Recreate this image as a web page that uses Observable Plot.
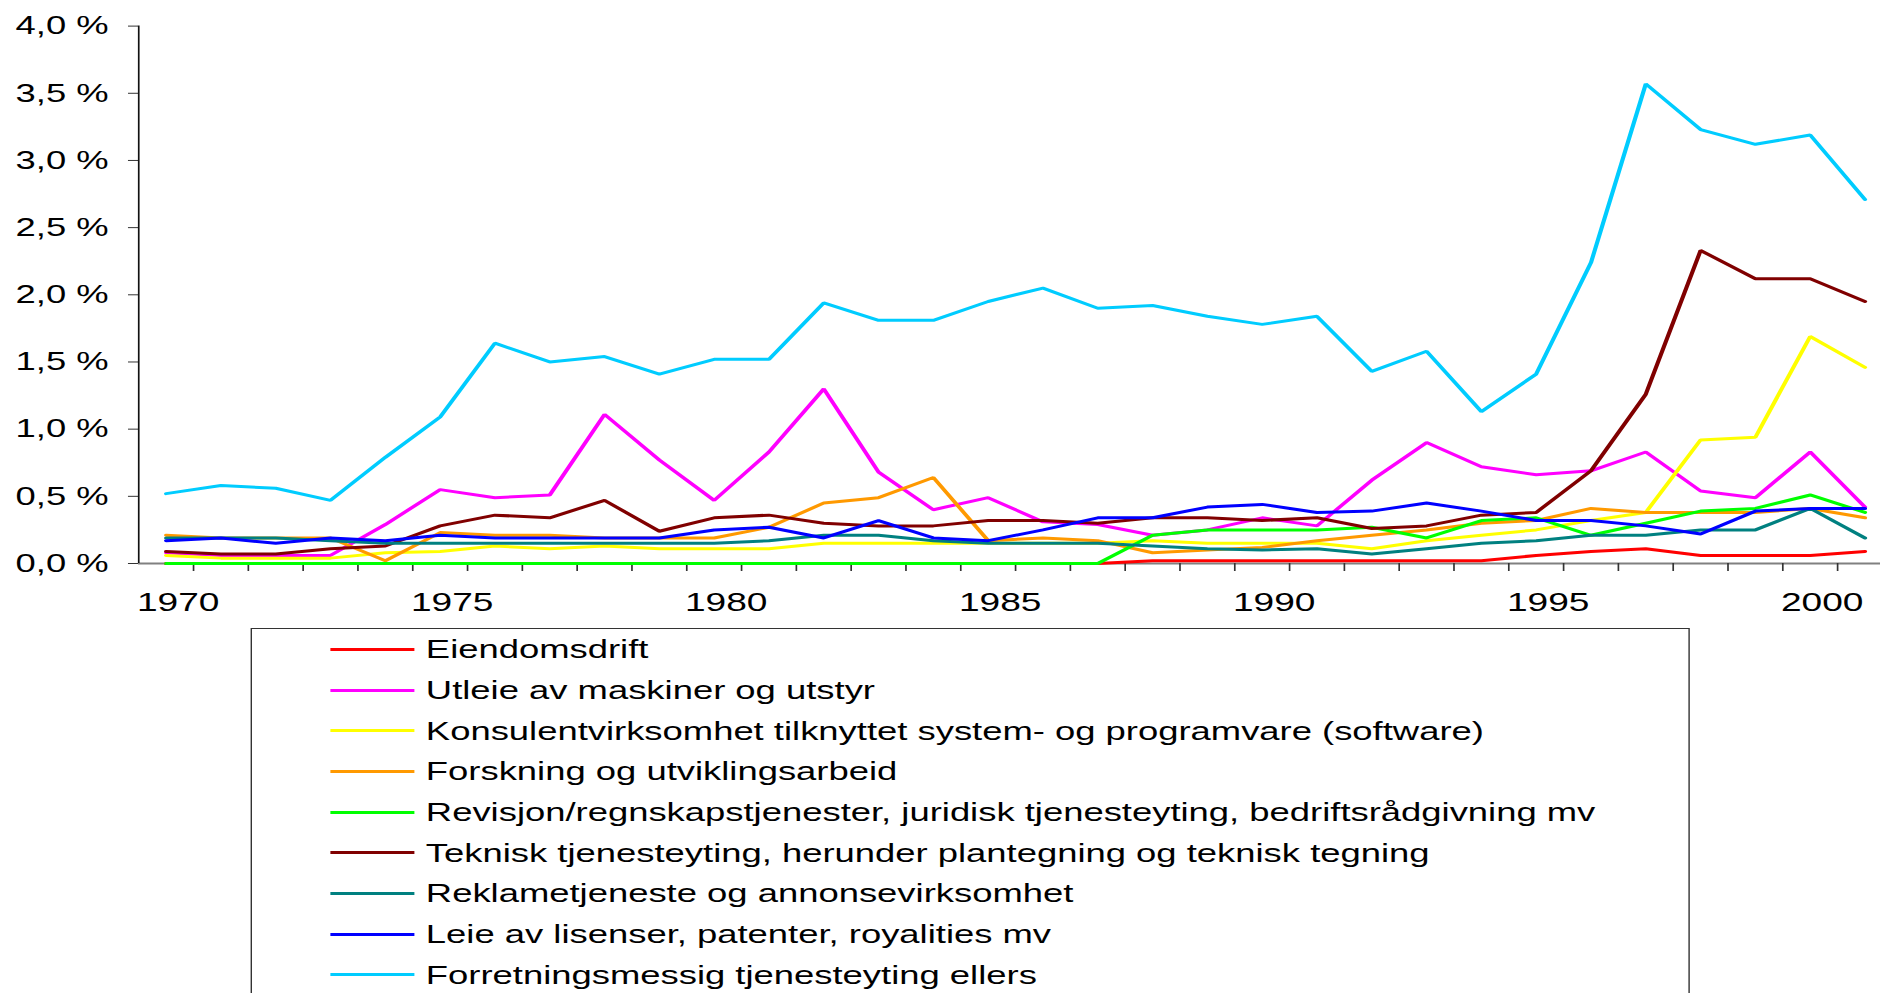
<!DOCTYPE html>
<html>
<head>
<meta charset="utf-8">
<script src="https://cdn.jsdelivr.net/npm/d3@7"></script>
<script src="https://cdn.jsdelivr.net/npm/@observablehq/plot@0.6"></script>
<style>
  html, body { margin: 0; padding: 0; background: #fff; overflow: hidden; }
  #wrap { transform: scaleX(1.4); transform-origin: 0 0; width: 1343px; font-family: "Liberation Sans", Arial, sans-serif; color: #000; }
  .legend { margin-left: 179.3px; margin-top: 6px; width: 1028px; height: 420px; border: 1px solid #333; box-sizing: border-box; }
  .row { height: 40.7px; display: flex; align-items: center; }
  .sw { margin-left: 56px; width: 60px; height: 3px; margin-right: 7.9px; flex: none; }
  .lab { font-size: 26px; white-space: nowrap; line-height: 1; }
</style>
</head>
<body>
<div id="wrap"></div>
<script>
const years = d3.range(1970, 2002);

const seriesNames = [
  "Eiendomsdrift",
  "Utleie av maskiner og utstyr",
  "Konsulentvirksomhet tilknyttet system- og programvare (software)",
  "Forskning og utviklingsarbeid",
  "Revisjon/regnskapstjenester, juridisk tjenesteyting, bedriftsrådgivning mv",
  "Teknisk tjenesteyting, herunder plantegning og teknisk tegning",
  "Reklametjeneste og annonsevirksomhet",
  "Leie av lisenser, patenter, royalities mv",
  "Forretningsmessig tjenesteyting ellers"
];

const seriesColors = ["#ff0000", "#ff00ff", "#ffff00", "#ff9900", "#00ff00", "#800000", "#008080", "#0000ff", "#00ccff"];

const eiendomsdrift = [0,0,0,0,0, 0,0,0,0,0, 0,0,0,0,0, 0,0,0,0.02,0.02, 0.02,0.02,0.02,0.02,0.02, 0.06,0.09,0.11,0.06,0.06, 0.06,0.09];
const utleie = [0.08,0.06,0.06,0.06,0.29, 0.55,0.49,0.51,1.11,0.77, 0.47,0.83,1.30,0.68,0.40, 0.49,0.31,0.29,0.21,0.25, 0.34,0.28,0.62,0.90,0.72, 0.66,0.69,0.83,0.54,0.49, 0.83,0.42];
const konsulent = [0.06,0.04,0.04,0.04,0.08, 0.09,0.13,0.11,0.13,0.11, 0.11,0.11,0.15,0.15,0.15, 0.15,0.15,0.15,0.17,0.15, 0.15,0.15,0.11,0.17,0.21, 0.25,0.32,0.38,0.92,0.94, 1.69,1.46];
const forskning = [0.21,0.19,0.19,0.19,0.02, 0.23,0.21,0.21,0.19,0.19, 0.19,0.27,0.45,0.49,0.64, 0.17,0.19,0.17,0.08,0.10, 0.12,0.17,0.21,0.25,0.30, 0.32,0.41,0.38,0.38,0.38, 0.41,0.34];
const revisjon = [0,0,0,0,0, 0,0,0,0,0, 0,0,0,0,0, 0,0,0,0.21,0.25, 0.25,0.25,0.27,0.19,0.32, 0.34,0.21,0.30,0.39,0.41, 0.51,0.38];
const teknisk = [0.09,0.07,0.07,0.11,0.13, 0.28,0.36,0.34,0.47,0.24, 0.34,0.36,0.30,0.28,0.28, 0.32,0.32,0.30,0.34,0.34, 0.32,0.34,0.26,0.28,0.36, 0.38,0.69,1.26,2.33,2.12, 2.12,1.95];
const reklame = [0.19,0.19,0.19,0.17,0.15, 0.15,0.15,0.15,0.15,0.15, 0.15,0.17,0.21,0.21,0.17, 0.15,0.15,0.15,0.13,0.11, 0.10,0.11,0.07,0.11,0.15, 0.17,0.21,0.21,0.25,0.25, 0.41,0.19];
const leie = [0.17,0.19,0.15,0.19,0.17, 0.21,0.19,0.19,0.19,0.19, 0.25,0.27,0.19,0.32,0.19, 0.17,0.25,0.34,0.34,0.42, 0.44,0.38,0.39,0.45,0.39, 0.32,0.32,0.28,0.22,0.39, 0.41,0.41];
const forretning = [0.52,0.58,0.56,0.47,0.79, 1.09,1.64,1.50,1.54,1.41, 1.52,1.52,1.94,1.81,1.81, 1.95,2.05,1.90,1.92,1.84, 1.78,1.84,1.43,1.58,1.13, 1.41,2.24,3.57,3.23,3.12, 3.19,2.71];

const yTicks = [0, 0.5, 1, 1.5, 2, 2.5, 3, 3.5, 4];
const xLabelYears = [1970, 1975, 1980, 1985, 1990, 1995, 2000];

const allValues = [eiendomsdrift, utleie, konsulent, forskning, revisjon, teknisk, reklame, leie, forretning];
const data = allValues.flatMap((vals, k) => vals.map((v, i) => ({year: years[i], value: v, series: seriesNames[k]})));

const boundaries = d3.range(1970.5, 2001, 1);

const chart = Plot.plot({
  width: 1343,
  height: 622,
  marginLeft: 98.6,
  marginRight: 0,
  marginTop: 25.6,
  marginBottom: 59,
  style: {fontFamily: "'Liberation Sans', Arial, sans-serif", fontSize: "26px", color: "#000", background: "#fff", overflow: "visible"},
  x: {domain: [1969.5, 2001.29], label: null},
  y: {domain: [0, 4], label: null},
  color: {domain: seriesNames, range: seriesColors},
  marks: [
    Plot.ruleY([0], {stroke: "#808080", strokeWidth: 2}),
    Plot.axisX(boundaries, {tickSize: 8, tickFormat: () => "", label: null, stroke: "#333", strokeWidth: 1.2}),
    Plot.axisX(xLabelYears, {tickSize: 0, tickPadding: 29, dx: 8.6, fontSize: 26.5, fill: "#000", label: null, tickFormat: d => String(d)}),
    Plot.axisY(yTicks, {tickSize: 7.2, tickPadding: 14.3, fontSize: 26, fill: "#000", stroke: "#333", label: null, tickFormat: d => d.toFixed(1).replace(".", ",") + " %"}),
    Plot.ruleX([1969.5], {y1: 0, y2: 4, stroke: "#111", strokeWidth: 1.2}),
    Plot.lineY(data, {x: "year", y: "value", z: "series", stroke: "series", strokeWidth: 3, strokeLinejoin: "miter"})
  ]
});

const wrap = document.getElementById("wrap");
wrap.appendChild(chart);

const legend = document.createElement("div");
legend.className = "legend";
seriesNames.forEach((name, i) => {
  const row = document.createElement("div");
  row.className = "row";
  const sw = document.createElement("span");
  sw.className = "sw";
  sw.style.background = seriesColors[i];
  const lab = document.createElement("span");
  lab.className = "lab";
  lab.textContent = name;
  row.appendChild(sw);
  row.appendChild(lab);
  legend.appendChild(row);
});
wrap.appendChild(legend);
</script>
</body>
</html>
